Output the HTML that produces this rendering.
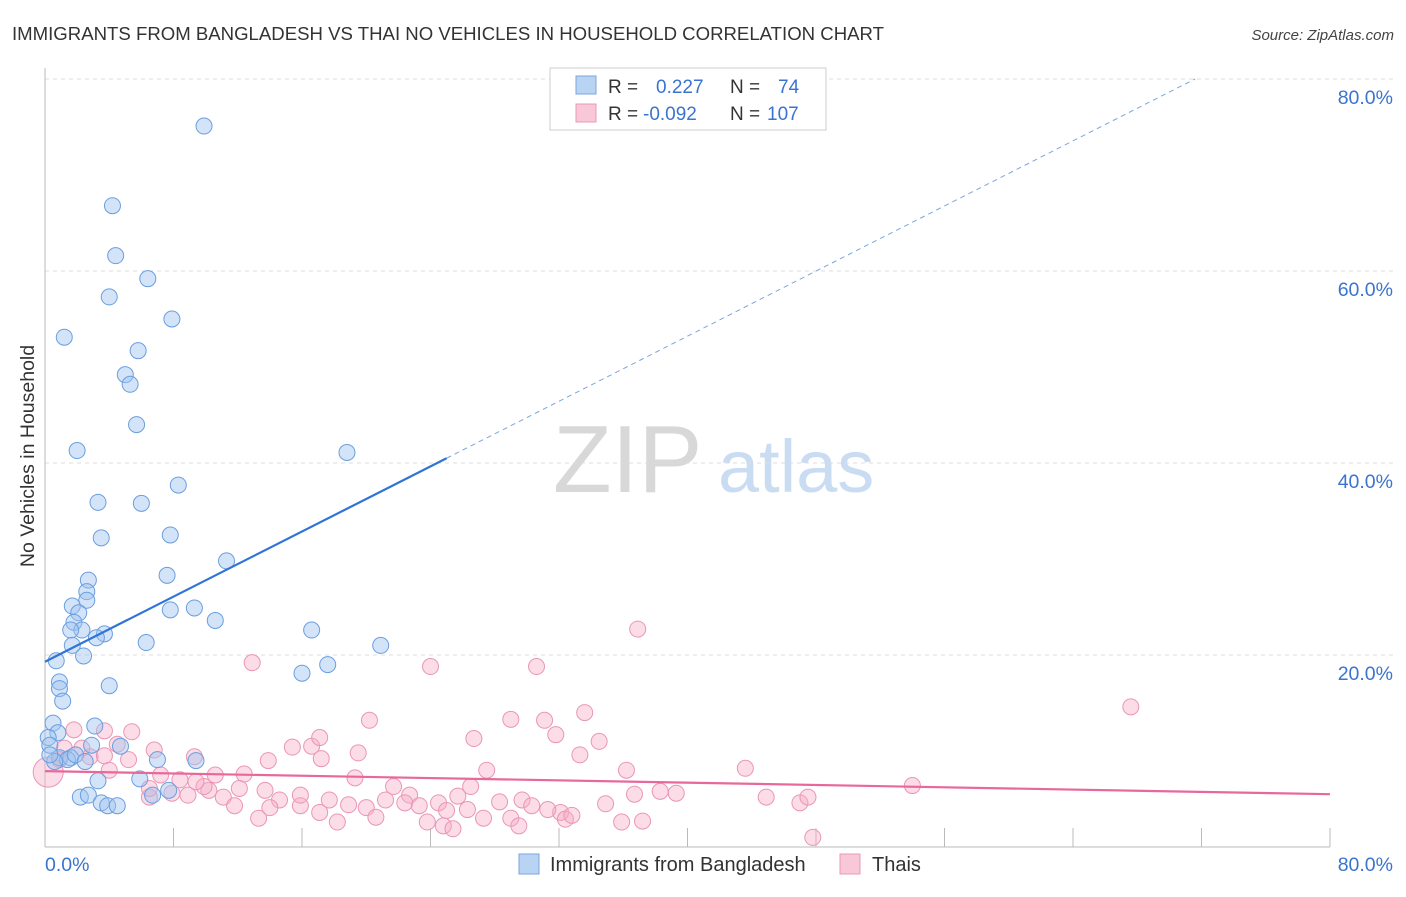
<!DOCTYPE html>
<html><head><meta charset="utf-8"><style>
body{margin:0;background:#fff;font-family:"Liberation Sans",sans-serif;}
svg text{font-family:"Liberation Sans",sans-serif;}
</style></head><body>
<svg id="chart" width="1406" height="892" viewBox="0 0 1406 892" xmlns="http://www.w3.org/2000/svg">
<text x="12" y="40" font-size="18.6" fill="#333">IMMIGRANTS FROM BANGLADESH VS THAI NO VEHICLES IN HOUSEHOLD CORRELATION CHART</text>
<text x="1394" y="40" font-size="15" fill="#444" text-anchor="end" font-style="italic">Source: ZipAtlas.com</text>
<g>
<text x="553" y="492" font-size="96" fill="#d8d8d8" font-family="Liberation Serif,serif">ZIP</text>
<text x="718" y="492" font-size="74" fill="#c9dcf2">atlas</text>
</g>
<g id="grid"></g>
<g id="axes"></g>
<g id="pts"></g>
<g id="lines"></g>
<text transform="translate(34,456) rotate(-90)" font-size="19.5" fill="#333" text-anchor="middle">No Vehicles in Household</text>
<g>
<rect x="550" y="68" width="276" height="62" fill="#fff" stroke="#ccc"/>
<rect x="576" y="76" width="20" height="18" fill="#b9d3f3" stroke="#7aa6de"/>
<rect x="576" y="104" width="20" height="18" fill="#f8c8d8" stroke="#e99ab8"/>
<text x="608" y="93" font-size="19" fill="#333">R =</text>
<text x="656" y="93" font-size="19" fill="#3a74d0">0.227</text>
<text x="730" y="93" font-size="19" fill="#333">N =</text>
<text x="778" y="93" font-size="19" fill="#3a74d0">74</text>
<text x="608" y="120" font-size="19" fill="#333">R =</text>
<text x="643" y="120" font-size="19" fill="#3a74d0">-0.092</text>
<text x="730" y="120" font-size="19" fill="#333">N =</text>
<text x="767" y="120" font-size="19" fill="#3a74d0">107</text>
</g>
<g>
<rect x="519" y="854" width="20" height="20" fill="#b9d3f3" stroke="#7aa6de"/>
<text x="550" y="871" font-size="20" fill="#333">Immigrants from Bangladesh</text>
<rect x="840" y="854" width="20" height="20" fill="#f8c8d8" stroke="#e99ab8"/>
<text x="872" y="871" font-size="20" fill="#333">Thais</text>
</g>
</svg>
<script>
const yTicks=[20,40,60,80];
const yTickLabels=["20.0%","40.0%","60.0%","80.0%"];
const xTickLabels=["0.0%","80.0%"];
const blueX=[9.9,4.2,4.4,6.4,4.0,1.2,7.9,5.8,5.0,5.3,5.7,2.0,18.8,8.3,3.3,6.0,3.5,7.8,11.3,7.6,2.7,2.6,2.6,1.7,2.1,1.8,2.3,1.6,3.7,3.2,1.7,6.3,2.4,9.3,7.8,10.6,16.6,20.9,17.6,16.0,0.7,4.0,0.9,0.9,1.1,0.5,0.8,3.1,0.2,0.3,0.9,1.6,4.7,2.9,1.4,0.6,3.3,5.9,7.0,9.4,2.2,2.7,3.5,3.9,4.5,6.7,7.7,0.3,1.9,2.5];
const blueY=[75.1,66.8,61.6,59.2,57.3,53.1,55.0,51.7,49.2,48.2,44.0,41.3,41.1,37.7,35.9,35.8,32.2,32.5,29.8,28.3,27.8,26.6,25.7,25.1,24.4,23.4,22.6,22.6,22.2,21.8,21.0,21.3,19.9,24.9,24.7,23.6,22.6,21.0,19.0,18.1,19.4,16.8,17.2,16.5,15.2,12.9,11.9,12.6,11.4,10.6,9.3,9.3,10.5,10.6,9.1,8.9,6.9,7.1,9.1,9.0,5.2,5.4,4.6,4.3,4.3,5.4,5.9,9.6,9.6,8.9];
const pinkX=[12.9,24.0,30.6,36.9,67.6,20.2,29.0,31.1,33.6,26.7,31.8,34.5,15.4,16.6,5.4,3.7,1.8,1.2,2.8,4.5,6.8,9.3,13.9,17.2,19.5,17.1,33.3,27.5,36.2,43.6,12.4,19.3,8.4,10.2,6.5,7.9,8.9,9.9,11.1,12.1,13.7,14.6,15.9,17.1,17.7,18.9,20.0,21.2,21.7,22.7,22.4,23.3,24.5,25.0,23.8,24.8,25.4,26.3,27.3,28.3,29.7,30.3,29.0,29.5,32.1,32.4,32.8,34.9,35.9,37.2,36.7,38.3,39.3,44.9,47.0,47.5,47.8,54.0,6.5,3.7,2.3,0.9,7.2,4.0,5.2,9.4,10.6,11.8,13.3,14.0,15.9,18.2,20.6,25.7,31.3,26.5,0.2];
const pinkY=[19.2,18.8,18.8,22.7,14.6,13.2,13.3,13.2,14.0,11.3,11.7,11.0,10.4,10.5,12.0,12.1,12.2,10.3,9.4,10.7,10.1,9.4,9.0,9.2,9.8,11.4,9.6,8.0,8.0,8.2,7.6,7.2,7.0,5.9,5.2,5.6,5.4,6.3,5.2,6.1,5.9,4.9,4.3,3.6,4.9,4.4,4.1,4.9,6.3,5.4,4.6,4.3,4.6,3.8,2.6,2.2,1.9,3.9,3.0,4.7,4.9,4.3,3.0,2.2,3.6,2.9,3.3,4.5,2.6,2.7,5.5,5.8,5.6,5.2,4.6,5.2,1.0,6.4,6.1,9.5,10.3,9.1,7.5,8.0,9.1,6.8,7.5,4.3,3.0,4.1,5.4,2.6,3.1,5.3,3.9,6.3,7.8];
const blueFit=[19.3,80];const blueFitX=[0,71.6];
const pinkFit=[7.9,5.5];
const NS="http://www.w3.org/2000/svg";
const X=v=>45+v*16.0625, Y=v=>847-v*9.6;
function mk(t,a,p){const e=document.createElementNS(NS,t);for(const k in a)e.setAttribute(k,a[k]);p.appendChild(e);return e;}
const grid=document.getElementById('grid'),axes=document.getElementById('axes'),pts=document.getElementById('pts'),lines=document.getElementById('lines');
yTicks.forEach((t,i)=>{
const g=mk('line',{x1:45,x2:1393,y1:Y(t),y2:Y(t),stroke:'#ddd','stroke-dasharray':'4,4'},grid);


const l=mk('text',{x:1393,y:Y(t)+25,'font-size':19.5,fill:'#3a74d0','text-anchor':'end'},axes);l.textContent=yTickLabels[i];


});
mk('line',{x1:45,x2:45,y1:68,y2:847,stroke:'#bbb'},axes);
mk('line',{x1:45,x2:1330,y1:847,y2:847,stroke:'#bbb'},axes);
for(let i=1;i<=10;i++){const t=mk('line',{x1:X(i*8),x2:X(i*8),y1:828,y2:847,stroke:'#bbb'},axes);

}
const xl0=mk('text',{x:45,y:871,'font-size':19.5,fill:'#3a74d0'},axes);xl0.textContent=xTickLabels[0];


const xl1=mk('text',{x:1393,y:871,'font-size':19.5,fill:'#3a74d0','text-anchor':'end'},axes);xl1.textContent=xTickLabels[1];


pinkX.forEach((v,i)=>{const big=i===pinkX.length-1;const c=mk('circle',{cx:X(v),cy:Y(pinkY[i]),r:big?15:8,fill:'rgba(246,172,198,0.42)',stroke:'#ea96b6','stroke-width':1},pts);

});
blueX.forEach((v,i)=>{const c=mk('circle',{cx:X(v),cy:Y(blueY[i]),r:8,fill:'rgba(160,196,240,0.45)',stroke:'#6a9edf','stroke-width':1},pts);

});
const slope=(blueFit[1]-blueFit[0])/(blueFitX[1]-blueFitX[0]);
const bs=mk('line',{x1:X(0),y1:Y(blueFit[0]),x2:X(25),y2:Y(blueFit[0]+slope*25),stroke:'#2f74d6','stroke-width':2.2},lines);


const bd=mk('line',{x1:X(25),y1:Y(blueFit[0]+slope*25),x2:X(blueFitX[1]),y2:Y(blueFit[1]),stroke:'#7aa6de','stroke-width':1,'stroke-dasharray':'5,4'},lines);


const pl=mk('line',{x1:X(0),y1:Y(pinkFit[0]),x2:X(80),y2:Y(pinkFit[1]),stroke:'#e8689a','stroke-width':2.2},lines);


</script>
</body></html>
